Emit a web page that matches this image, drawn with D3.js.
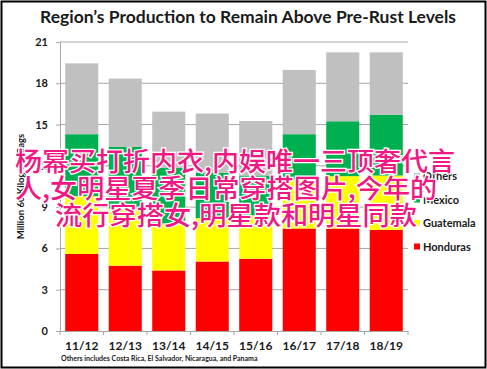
<!DOCTYPE html>
<html>
<head>
<meta charset="utf-8">
<script src="https://cdn.jsdelivr.net/npm/d3@7"></script>
<style>
  body { margin: 0; background: #fff; }
  svg { display: block; }
</style>
</head>
<body>
<div id="chart"></div>
<script>
// data
const seasons = ["11/12", "12/13", "13/14", "14/15", "15/16", "16/17", "17/18", "18/19"];
const honduras = [5.6, 4.75, 4.4, 5.05, 5.25, 7.45, 7.45, 7.35];
const guatemala = [4.2, 4.15, 3.4, 3.15, 3.15, 3.55, 3.8, 3.95];
const mexico = [4.5, 4.47, 4.05, 3.3, 2.9, 3.3, 3.99, 4.4];
const others = [5.15, 4.97, 4.09, 4.3, 3.96, 4.67, 5.01, 4.55];
const seriesNames = ["Honduras", "Guatemala", "Mexico", "Others"];
const seriesColors = ["#FF0000", "#FFFF00", "#00B050", "#C0C0C0"];
const yTicks = [0, 3, 6, 9, 12, 15, 18, 21];
const overlayLines = [
  "杨幂买打折内衣,内娱唯一三顶奢代言",
  "人,女明星夏季日常穿搭图片,今年的",
  "流行穿搭女,明星款和明星同款"
];

const W = 487, H = 369;
const margin = { top: 42, right: 79, bottom: 38, left: 60 };

const svg = d3.select("#chart").append("svg")
  .attr("width", W).attr("height", H);

// frame
svg.append("rect")
  .attr("x", 1.5).attr("y", 1.5)
  .attr("width", W - 3).attr("height", H - 3)
  .attr("fill", "none").attr("stroke", "#000").attr("stroke-width", 2);

// title
svg.append("text")
  .attr("x", 248).attr("y", 23)
  .attr("text-anchor", "middle")
  .attr("textLength", 416).attr("lengthAdjust", "spacingAndGlyphs")
  .style("font-family", "Lato, 'Open Sans', sans-serif")
  .style("font-weight", "bold").style("font-size", "17px")
  .attr("fill", "#1a1a1a")
  .text("Region’s Production to Remain Above Pre-Rust Levels");

const x = d3.scaleBand().domain(seasons)
  .range([margin.left, W - margin.right])
  .paddingInner(0.24).paddingOuter(0.12);
const y = d3.scaleLinear().domain([0, 21]).range([H - margin.bottom, margin.top]);

// gridlines
svg.append("g").selectAll("line")
  .data(yTicks.slice(1))
  .join("line")
  .attr("x1", margin.left).attr("x2", W - margin.right)
  .attr("y1", d => y(d)).attr("y2", d => y(d))
  .attr("stroke", "#a6a6a6").attr("stroke-width", 1);

// stacked bars
const table = seasons.map((s, i) => ({
  season: s, Honduras: honduras[i], Guatemala: guatemala[i], Mexico: mexico[i], Others: others[i]
}));
const stacked = d3.stack().keys(seriesNames)(table);
const color = d3.scaleOrdinal().domain(seriesNames).range(seriesColors);

svg.append("g").selectAll("g")
  .data(stacked)
  .join("g")
  .attr("fill", d => color(d.key))
  .selectAll("rect")
  .data(d => d)
  .join("rect")
  .attr("x", d => x(d.data.season))
  .attr("y", d => y(d[1]))
  .attr("width", x.bandwidth())
  .attr("height", d => y(d[0]) - y(d[1]));

// y axis
const yAxis = svg.append("g")
  .attr("transform", `translate(${margin.left},0)`)
  .call(d3.axisLeft(y).tickValues(yTicks).tickSize(4).tickPadding(8));
yAxis.select(".domain").attr("stroke", "#a6a6a6");
yAxis.selectAll(".tick line").attr("stroke", "#a6a6a6");
yAxis.selectAll("text")
  .style("font-family", "Lato, sans-serif").style("font-weight", "bold")
  .style("font-size", "11px").attr("fill", "#1a1a1a");

// x axis
const xAxis = svg.append("g")
  .attr("transform", `translate(0,${y(0)})`)
  .call(d3.axisBottom(x).tickSize(0).tickPadding(10));
xAxis.select(".domain").attr("stroke", "#a6a6a6");
xAxis.selectAll("text")
  .style("font-family", "Lato, sans-serif").style("font-weight", "bold")
  .style("font-size", "12px").attr("fill", "#1a1a1a");
// category boundary ticks
const step = x.step();
xAxis.selectAll(".sep")
  .data(seasons.concat(["end"]))
  .join("line")
  .attr("class", "sep")
  .attr("x1", (d, i) => margin.left + i * step).attr("x2", (d, i) => margin.left + i * step)
  .attr("y1", 0).attr("y2", 4)
  .attr("stroke", "#a6a6a6");

// y axis title
svg.append("text")
  .attr("transform", `translate(24,${(y(21) + y(0)) / 2}) rotate(-90)`)
  .attr("text-anchor", "middle")
  .style("font-family", "Lato, sans-serif").style("font-weight", "bold")
  .style("font-size", "9.5px").attr("fill", "#1a1a1a")
  .text("Million 60 Kilogram Bags");

// footnote
svg.append("text")
  .attr("x", 61).attr("y", 361)
  .style("font-family", "Lato, sans-serif").style("font-weight", "bold")
  .style("font-size", "7px").attr("fill", "#1a1a1a")
  .text("Others includes Costa Rica, El Salvador, Nicaragua, and Panama");

// legend (top entry is Others)
const legendOrder = seriesNames.slice().reverse();
const legend = svg.append("g").attr("transform", "translate(414,176)");
legend.selectAll("rect")
  .data(legendOrder)
  .join("rect")
  .attr("x", 0).attr("y", (d, i) => i * 23.5 - 3)
  .attr("width", 6).attr("height", 6)
  .attr("fill", d => color(d));
legend.selectAll("text")
  .data(legendOrder)
  .join("text")
  .attr("x", 9).attr("y", (d, i) => i * 23.5 + 4)
  .style("font-family", "Lato, sans-serif").style("font-weight", "bold")
  .style("font-size", "11px").attr("fill", "#1a1a1a")
  .text(d => d);

// overlay caption
const overlay = svg.append("g");
const overlayX = [15, 15, 55];
const overlayY = [171, 198, 225];
const overlayLen = [440, 422, 362];
overlay.selectAll("text")
  .data(overlayLines)
  .join("text")
  .attr("x", (d, i) => overlayX[i]).attr("y", (d, i) => overlayY[i])
  .attr("textLength", (d, i) => overlayLen[i]).attr("lengthAdjust", "spacingAndGlyphs")
  .style("font-family", "'Noto Sans CJK SC', sans-serif")
  .style("font-size", "26px").style("font-weight", "500")
  .attr("fill", "#f01882")
  .attr("stroke", "#fff").attr("stroke-width", 2.5)
  .attr("paint-order", "stroke")
  .text(d => d);
</script>
</body>
</html>
